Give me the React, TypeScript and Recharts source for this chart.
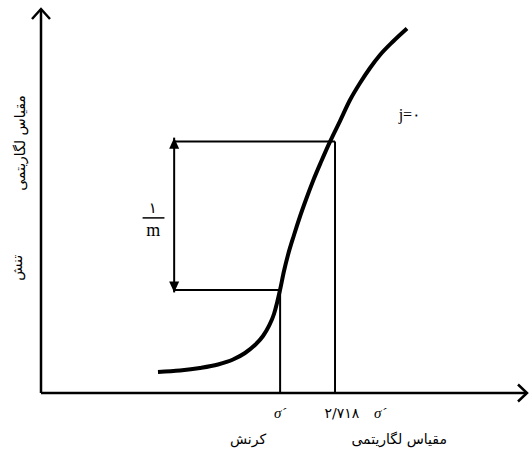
import {
  ComposedChart,
  Line,
  XAxis,
  YAxis,
  ReferenceLine,
  ReferenceDot,
} from "recharts";

// curve, in 0..100 units of each (log) axis
const curveX = [
  24.07, 28.6, 32.72, 36.42, 39.51, 41.98, 44.03, 45.68, 46.91, 47.94, 48.56,
  49.18, 50.0, 50.82, 52.06, 53.29, 54.53, 55.97, 57.61, 59.47, 61.52, 63.58, 65.64, 67.7, 69.75, 72.43, 75.31,
];
const curveY = [
  5.47, 5.86, 6.51, 7.42, 8.72, 10.42, 12.5, 14.84, 17.45, 20.57, 23.44,
  26.82, 31.77, 35.94, 41.15, 45.96, 50.39, 55.21, 60.16, 65.47, 70.83, 76.3, 80.73, 84.64, 88.02, 91.54, 94.92,
];

// construction lines
const strainMarks = [49.2, 60.5]; // σ´ and 2.718 σ´
const stressMarks = [26.8, 65.5];
const bracketX = 27.4;

const data = curveX.map((x, i) => ({ x, y: curveY[i] }));

const ink = "#000";
const persian = "DejaVu Sans";
const latin = "Liberation Serif";

function openArrow(len: number, half: number, width: number) {
  return (p: any) => {
    const { x1, y1, x2, y2 } = p;
    const d = Math.hypot(x2 - x1, y2 - y1) || 1;
    const ux = (x2 - x1) / d;
    const uy = (y2 - y1) / d;
    const bx = x2 - ux * len;
    const by = y2 - uy * len;
    const ax = -uy * half;
    const ay = ux * half;
    return (
      <g>
        <line x1={x1} y1={y1} x2={x2} y2={y2} stroke={ink} strokeWidth={width} />
        <polyline
          points={`${bx + ax},${by + ay} ${x2},${y2} ${bx - ax},${by - ay}`}
          fill="none"
          stroke={ink}
          strokeWidth={width}
        />
      </g>
    );
  };
}

function doubleArrow(p: any) {
  const { x1, y1, x2, y2 } = p;
  const len = 11;
  const half = 5;
  const d = Math.hypot(x2 - x1, y2 - y1) || 1;
  const ux = (x2 - x1) / d;
  const uy = (y2 - y1) / d;
  const head = (tx: number, ty: number, sx: number, sy: number) => {
    const bx = tx - sx * len;
    const by = ty - sy * len;
    return `${tx},${ty} ${bx - sy * half},${by + sx * half} ${bx + sy * half},${by - sx * half}`;
  };
  return (
    <g>
      <line x1={x1} y1={y1} x2={x2} y2={y2} stroke={ink} strokeWidth={2} />
      <polygon points={head(x2, y2, ux, uy)} fill={ink} />
      <polygon points={head(x1, y1, -ux, -uy)} fill={ink} />
    </g>
  );
}

function note(
  key: string,
  x: number,
  y: number,
  text: string,
  font: string,
  size: number,
  rotate = 0,
  italic = false
) {
  return (
    <ReferenceDot
      key={key}
      x={x}
      y={y}
      r={0}
      fill="none"
      stroke="none"
      ifOverflow="visible"
      label={{
        content: (props: any) => {
          const vb = props.viewBox || {};
          const cx = vb.x ?? 0;
          const cy = vb.y ?? 0;
          return (
            <text
              x={cx}
              y={cy}
              textAnchor="middle"
              dominantBaseline="central"
              fontFamily={font}
              fontSize={size}
              fontStyle={italic ? "italic" : "normal"}
              fill={ink}
              transform={rotate ? `rotate(${rotate} ${cx} ${cy})` : undefined}
            >
              {text}
            </text>
          );
        },
      }}
    />
  );
}

export default function App() {
  return (
    <div style={{ position: "absolute", left: 0, top: 0, background: "#fff" }}>
      <ComposedChart
        width={529}
        height={450}
        data={data}
        margin={{ top: 9, right: 2, bottom: 57, left: 41 }}
      >
        <XAxis type="number" dataKey="x" domain={[0, 100]} hide />
        <YAxis type="number" domain={[0, 100]} hide />

        <ReferenceLine
          segment={[{ x: 0, y: 0 }, { x: 0, y: 100 }]}
          ifOverflow="visible"
          shape={openArrow(10, 9, 2.5)}
        />
        <ReferenceLine
          segment={[{ x: 0, y: 0 }, { x: 100, y: 0 }]}
          ifOverflow="visible"
          shape={openArrow(9, 8.5, 2.5)}
        />

        <ReferenceLine
          segment={[{ x: strainMarks[0], y: 0 }, { x: strainMarks[0], y: stressMarks[0] }]}
          stroke={ink}
          strokeWidth={2}
          ifOverflow="visible"
        />
        <ReferenceLine
          segment={[{ x: strainMarks[1], y: 0 }, { x: strainMarks[1], y: stressMarks[1] }]}
          stroke={ink}
          strokeWidth={2}
          ifOverflow="visible"
        />
        <ReferenceLine
          segment={[{ x: bracketX, y: stressMarks[0] }, { x: strainMarks[0], y: stressMarks[0] }]}
          stroke={ink}
          strokeWidth={2}
          ifOverflow="visible"
        />
        <ReferenceLine
          segment={[{ x: bracketX, y: stressMarks[1] }, { x: strainMarks[1], y: stressMarks[1] }]}
          stroke={ink}
          strokeWidth={2}
          ifOverflow="visible"
        />
        <ReferenceLine
          segment={[{ x: bracketX, y: stressMarks[0] - 0.6 }, { x: bracketX, y: stressMarks[1] + 1 }]}
          ifOverflow="visible"
          shape={doubleArrow}
        />
        <ReferenceLine
          segment={[{ x: 20.9, y: 45.6 }, { x: 25.4, y: 45.6 }]}
          stroke={ink}
          strokeWidth={1.5}
          ifOverflow="visible"
        />

        <Line
          type="monotone"
          dataKey="y"
          stroke={ink}
          strokeWidth={4}
          dot={false}
          activeDot={false}
          isAnimationActive={false}
        />

        {note("yl1", -4.3, 65.1, "مقیاس لگاریتمی", persian, 14, -90)}
        {note("yl2", -4.9, 32.6, "تنش", persian, 14, -90)}
        {note("s1", 49.2, -5.2, "σ´", latin, 15, 0, true)}
        {note("e", 61.9, -5.2, "۲/۷۱۸", persian, 14)}
        {note("s2", 69.8, -5.2, "σ´", latin, 15, 0, true)}
        {note("xl1", 42.6, -12.0, "کرنش", persian, 14)}
        {note("xl2", 73.7, -12.0, "مقیاس لگاریتمی", persian, 14)}
        {note("j", 75.9, 72.4, "j=۰", latin, 16)}
        {note("one", 23.0, 48.2, "۱", persian, 15)}
        {note("m", 23.1, 42.4, "m", latin, 18)}
      </ComposedChart>
    </div>
  );
}
